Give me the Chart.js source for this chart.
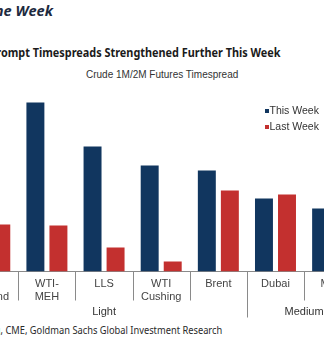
<!DOCTYPE html>
<html>
<head>
<meta charset="utf-8">
<script src="https://cdn.jsdelivr.net/npm/chart.js@4.4.0/dist/chart.umd.min.js"></script>
<style>
  html, body { margin: 0; padding: 0; background: #fff; overflow: hidden; }
  body { width: 324px; height: 351px; position: relative; }
  .txt { position: absolute; white-space: nowrap; transform-origin: right center; }
  #kicker { right: calc(324px - 53px); top: 0px; font: italic bold 15px "Open Sans", sans-serif; color: #1d2a40; transform: scaleX(0.97); }
  #title { right: calc(324px - 281px); top: 44px; font: bold 12.5px "Noto Sans", sans-serif; color: #1b1b1b; transform: scaleX(0.87); }
  #subtitle { left: 86px; top: 69px; font: 10px "Liberation Sans", Arial, sans-serif; color: #333; }
  #source { right: calc(324px - 222px); top: 322px; font: 11px "Noto Sans", sans-serif; color: #2a2a2a; transform: scaleX(0.845); }
  #wrap { position: absolute; left: -50px; top: 0; width: 440px; height: 351px; }
</style>
</head>
<body>
<div id="kicker" class="txt">Chart of the Week</div>
<div id="title" class="txt">Prompt Timespreads Strengthened Further This Week</div>
<div id="subtitle" class="txt">Crude 1M/2M Futures Timespread</div>
<div id="source" class="txt">Source: Bloomberg, CME, Goldman Sachs Global Investment Research</div>
<div id="wrap"><canvas id="c"></canvas></div>
<script>
// Crude grades and their 1M/2M timespreads ($/bbl)
const categories = [["WTI", "Midland"], ["WTI-", "MEH"], ["LLS"], ["WTI", "Cushing"], ["Brent"], ["Dubai"], ["Mars"]];
const thisWeek = [1.72, 1.69, 1.25, 1.06, 1.01, 0.73, 0.63];
const lastWeek = [0.47, 0.46, 0.24, 0.10, 0.81, 0.77, 0.55];
const groupNames = ["Light", "Medium"];
const groupSizes = [5, 2];
const seriesNames = ["This Week", "Last Week"];

const NAVY = "#11365f";
const RED = "#c3302f";
const PAGE_SHIFT = 50; // canvas sits 50px left of the page edge

// Separators between categories, longer ones between grade groups, plus group names
const groupAxis = {
  id: "groupAxis",
  afterDraw(chart) {
    const ctx = chart.ctx;
    const x = chart.scales.x;
    const base = chart.chartArea.bottom;
    const n = categories.length;
    const step = x.getPixelForValue(1) - x.getPixelForValue(0);
    const edge = i => x.getPixelForValue(0) + (i - 0.5) * step;
    const groupEdges = new Set([0]);
    let acc = 0;
    groupSizes.forEach(s => { acc += s; groupEdges.add(acc); });
    ctx.save();
    ctx.strokeStyle = "#8a8a8a";
    ctx.lineWidth = 1;
    for (let i = 0; i <= n; i++) {
      const px = Math.round(edge(i)) + 0.5;
      ctx.beginPath();
      ctx.moveTo(px, base);
      ctx.lineTo(px, groupEdges.has(i) ? base + 46 : base + 29);
      ctx.stroke();
    }
    ctx.fillStyle = "#333";
    ctx.font = "11px 'Liberation Sans', Arial, sans-serif";
    ctx.textAlign = "center";
    ctx.textBaseline = "middle";
    let start = 0;
    groupNames.forEach((g, k) => {
      const end = start + groupSizes[k];
      ctx.fillText(g, (edge(start) + edge(end)) / 2, base + 40);
      start = end;
    });
    ctx.restore();
  }
};

// Legend placed at the upper right of the plot
const cornerLegend = {
  id: "cornerLegend",
  afterDraw(chart) {
    const ctx = chart.ctx;
    ctx.save();
    ctx.font = "10.5px 'Liberation Sans', Arial, sans-serif";
    ctx.textBaseline = "middle";
    ctx.textAlign = "left";
    chart.data.datasets.forEach((ds, i) => {
      const y = 110.7 + i * 16.6;
      ctx.fillStyle = ds.backgroundColor;
      ctx.fillRect(265 + PAGE_SHIFT, Math.round(y - 2), 4, 4);
      ctx.fillStyle = "#333";
      ctx.fillText(ds.label, 269.5 + PAGE_SHIFT, y);
    });
    ctx.restore();
  }
};

new Chart(document.getElementById("c"), {
  type: "bar",
  data: {
    labels: categories,
    datasets: [
      { label: seriesNames[0], data: thisWeek, backgroundColor: NAVY },
      { label: seriesNames[1], data: lastWeek, backgroundColor: RED }
    ]
  },
  options: {
    responsive: true,
    maintainAspectRatio: false,
    animation: false,
    datasets: { bar: { categoryPercentage: 0.806, barPercentage: 0.78 } },
    layout: { padding: { left: 11.2, right: 28.8, top: 91.5, bottom: 0 } },
    plugins: { legend: { display: false }, title: { display: false }, tooltip: { enabled: false } },
    scales: {
      y: { display: false, min: 0, max: 1.8 },
      x: {
        grid: { display: false },
        border: { display: true, color: "#8a8a8a", width: 1 },
        ticks: {
          color: "#444",
          font: { family: "'Liberation Sans', Arial, sans-serif", size: 11, lineHeight: 1.15 },
          padding: -2,
          maxRotation: 0,
          autoSkip: false
        },
        afterFit(scale) { scale.height = 79.5; }
      }
    }
  },
  plugins: [groupAxis, cornerLegend]
});
</script>
</body>
</html>
